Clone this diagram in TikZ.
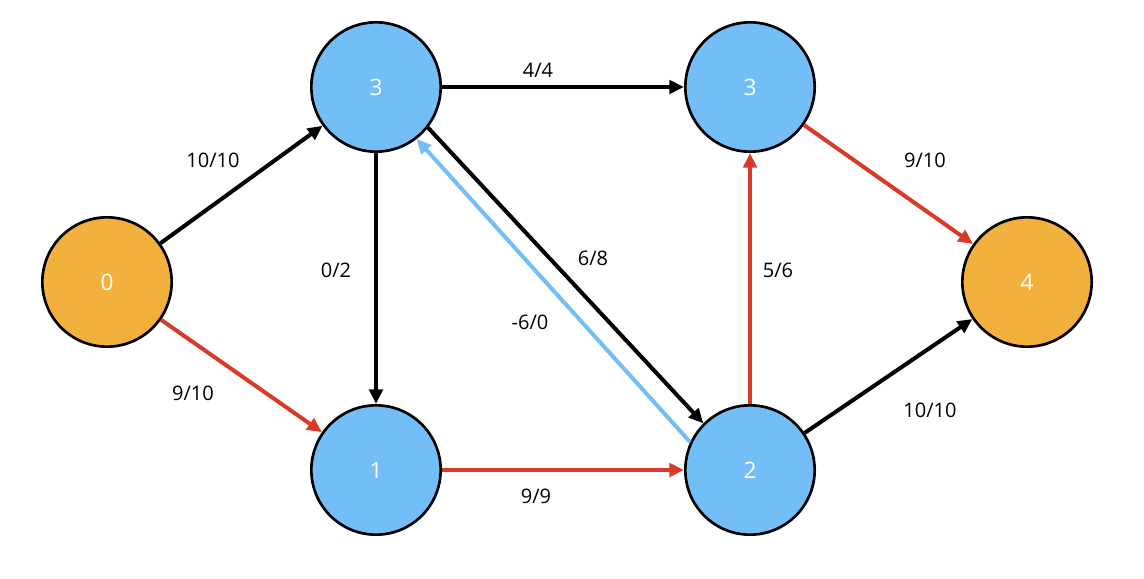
\documentclass[tikz,border=0pt]{standalone}
\usepackage{fontspec}
\setmainfont{Open Sans}
\usetikzlibrary{arrows.meta}
\definecolor{nblue}{HTML}{74BEF8}
\definecolor{norange}{HTML}{F2B03D}
\definecolor{ered}{HTML}{D93A27}
\begin{document}
\begin{tikzpicture}[x=0.75pt,y=-0.75pt,
  nd/.style={circle,draw=black,line width=2pt,minimum size=97pt,inner sep=0pt,text=white,font=\fontsize{17}{20}\selectfont},
  bn/.style={nd,fill=nblue}, on/.style={nd,fill=norange},
  e/.style={line width=3pt,-{Triangle[length=11pt,width=10pt]}},
  lb/.style={font=\fontsize{15}{18}\selectfont,text=black}]
\useasboundingbox (0,0) rectangle (1144,578);
\node[on] (n0) at (107,282) {0};
\node[bn] (a) at (376,87) {3};
\node[bn] (b) at (750,87) {3};
\node[bn] (n1) at (376,470) {1};
\node[bn] (n2) at (750,470) {2};
\node[on] (n4) at (1027,282) {4};
\draw[e] (n0) -- (a);
\draw[e,ered] (n0) -- (n1);
\draw[e] (a) -- (b);
\draw[e] (a) -- (n1);
\draw[e] (a.-38) -- (n2.135);
\draw[e,nblue] (n2.155) -- (a.-52);
\draw[e,ered] (n1) -- (n2);
\draw[e,ered] (n2) -- (b);
\draw[e,ered] (b) -- (n4);
\draw[e] (n2) -- (n4);
\node[lb] (l1) at (213,160) {10/10};
\node[lb] (l2) at (193,393) {9/10};
\node[lb] (l3) at (538,70) {4/4};
\node[lb] (l4) at (336,270) {0/2};
\node[lb] (l5) at (593,258) {6/8};
\node[lb] (l6) at (530,322) {-6/0};
\node[lb] (l7) at (536,496) {9/9};
\node[lb] (l8) at (778,270) {5/6};
\node[lb] (l9) at (925,160) {9/10};
\node[lb] (l10) at (930,410) {10/10};
\end{tikzpicture}
\end{document}
